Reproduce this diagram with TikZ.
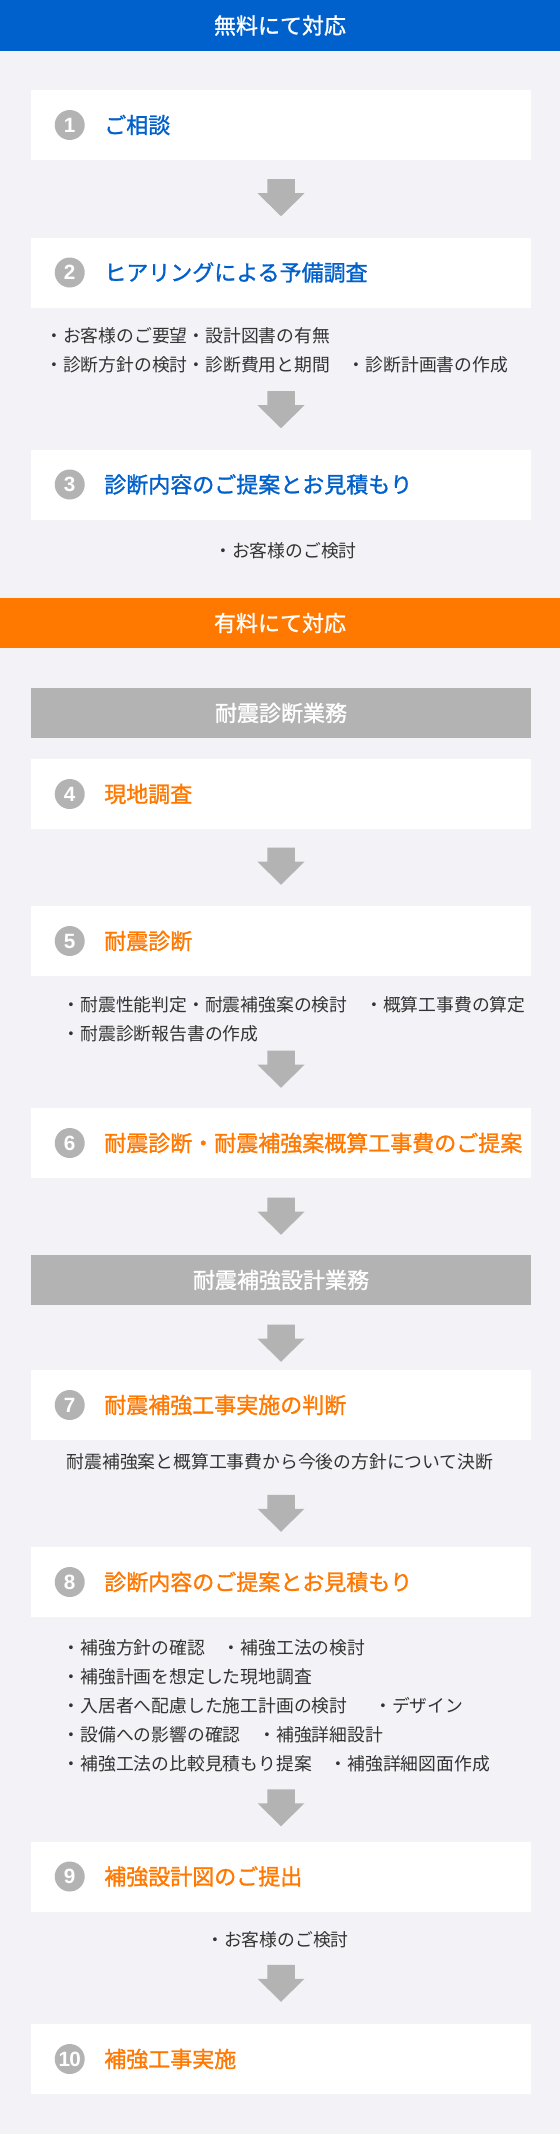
\documentclass[tikz,border=0pt]{standalone}
\usepackage{fontspec}
\setmainfont{Noto Sans CJK JP}
\newfontface\headfont{Noto Sans CJK JP}[FakeBold=1.2]
\newfontfamily\numfont{Liberation Sans}
\usetikzlibrary{positioning}

\definecolor{bggray}{HTML}{F3F3F7}
\definecolor{freeblue}{HTML}{0060CC}
\definecolor{paidorange}{HTML}{FF7800}
\definecolor{stepgray}{HTML}{B3B3B3}
\definecolor{notetext}{HTML}{333333}

\tikzset{
  bar/.style={rectangle, inner sep=0, minimum width=420pt, minimum height=37.5pt, text=white, font=\headfont\fontsize{16.5pt}{16.5pt}\selectfont},
  band/.style={rectangle, fill=stepgray, inner sep=0, minimum width=375pt, minimum height=37.5pt, text=white, font=\headfont\fontsize{16.5pt}{16.5pt}\selectfont},
  stepbox/.style={rectangle, fill=white, inner sep=0, minimum width=375pt, minimum height=52.5pt},
  num/.style={circle, fill=stepgray, inner sep=0, minimum size=22.5pt, text=white, font=\numfont\bfseries\fontsize{15.5pt}{15.5pt}\selectfont},
  title/.style={inner sep=0, font=\headfont\fontsize{16.5pt}{16.5pt}\selectfont},
  note/.style={inner sep=0, align=left, text=notetext, font=\fontsize{13.35pt}{21.75pt}\selectfont},
  downarrow/.pic={\fill[stepgray] (-13.75,0) -- (13.75,0) -- (13.75,14) -- (23.5,14) -- (0,37) -- (-23.5,14) -- (-13.75,14) -- cycle;}
}

\begin{document}
\begin{tikzpicture}[x=0.75pt, y=-0.75pt]
    \useasboundingbox (0,0) rectangle (560,2134);
    \fill[bggray] (0,0) rectangle (560,2134);

    % free part
    \node[bar, fill=freeblue, minimum height=38.25pt] (free) at (280,25.5) {無料にて対応};

    \node[stepbox] (b1) at (281,125) {};
    \node[num] (n1) at ([xshift=29.25pt]b1.west) {1};
    \node[title, text=freeblue, right=14.25pt of n1] (t1) {ご相談};

    \node[stepbox] (b2) at (281,272.5) {};
    \node[num] (n2) at ([xshift=29.25pt]b2.west) {2};
    \node[title, text=freeblue, right=14.25pt of n2] (t2) {ヒアリングによる予備調査};
    \node[note, anchor=west] (m2) at (45,350.5) {・お客様のご要望・設計図書の有無\\・診断方針の検討・診断費用と期間　・診断計画書の作成};

    \node[stepbox] (b3) at (281,484.5) {};
    \node[num] (n3) at ([xshift=29.25pt]b3.west) {3};
    \node[title, text=freeblue, right=14.25pt of n3] (t3) {診断内容のご提案とお見積もり};
    \node[note, anchor=west] (m3) at (214,551) {・お客様のご検討};

    % paid part
    \node[bar, fill=paidorange] (paid) at (280,623) {有料にて対応};

    \node[band] (w1) at (281,713) {耐震診断業務};

    \node[stepbox] (b4) at (281,794) {};
    \node[num] (n4) at ([xshift=29.25pt]b4.west) {4};
    \node[title, text=paidorange, right=14.25pt of n4] (t4) {現地調査};

    \node[stepbox] (b5) at (281,941) {};
    \node[num] (n5) at ([xshift=29.25pt]b5.west) {5};
    \node[title, text=paidorange, right=14.25pt of n5] (t5) {耐震診断};
    \node[note, anchor=west] (m5) at (62.5,1019) {・耐震性能判定・耐震補強案の検討　・概算工事費の算定\\・耐震診断報告書の作成};

    \node[stepbox] (b6) at (281,1143) {};
    \node[num] (n6) at ([xshift=29.25pt]b6.west) {6};
    \node[title, text=paidorange, right=14.25pt of n6] (t6) {耐震診断・耐震補強案概算工事費のご提案};

    \node[band] (w2) at (281,1280) {耐震補強設計業務};

    \node[stepbox] (b7) at (281,1405) {};
    \node[num] (n7) at ([xshift=29.25pt]b7.west) {7};
    \node[title, text=paidorange, right=14.25pt of n7] (t7) {耐震補強工事実施の判断};
    \node[note] (m7) at (280,1462) {耐震補強案と概算工事費から今後の方針について決断};

    \node[stepbox] (b8) at (281,1582) {};
    \node[num] (n8) at ([xshift=29.25pt]b8.west) {8};
    \node[title, text=paidorange, right=14.25pt of n8] (t8) {診断内容のご提案とお見積もり};
    \node[note, anchor=west] (m8) at (62.5,1706) {・補強方針の確認　・補強工法の検討\\・補強計画を想定した現地調査\\・入居者へ配慮した施工計画の検討　\hspace{0.5em}・デザイン\\・設備への影響の確認　・補強詳細設計\\・補強工法の比較見積もり提案　・補強詳細図面作成};

    \node[stepbox] (b9) at (281,1876.5) {};
    \node[num] (n9) at ([xshift=29.25pt]b9.west) {9};
    \node[title, text=paidorange, right=14.25pt of n9] (t9) {補強設計図のご提出};
    \node[note, anchor=west] (m9) at (206,1940) {・お客様のご検討};

    \node[stepbox] (b10) at (281,2059) {};
    \node[num] (n10) at ([xshift=29.25pt]b10.west) {1\kern-0.5pt0};
    \node[title, text=paidorange, right=14.25pt of n10] (t10) {補強工事実施};

    % arrows
    \path (b2.north) ++(0,-58) pic {downarrow};
    \path (b3.north) ++(0,-58) pic {downarrow};
    \path (b5.north) ++(0,-58) pic {downarrow};
    \path (b6.north) ++(0,-57) pic {downarrow};
    \path (w2.north) ++(0,-57) pic {downarrow};
    \path (b7.north) ++(0,-45) pic {downarrow};
    \path (b8.north) ++(0,-52) pic {downarrow};
    \path (b9.north) ++(0,-52) pic {downarrow};
    \path (b10.north) ++(0,-59) pic {downarrow};
\end{tikzpicture}
\end{document}
